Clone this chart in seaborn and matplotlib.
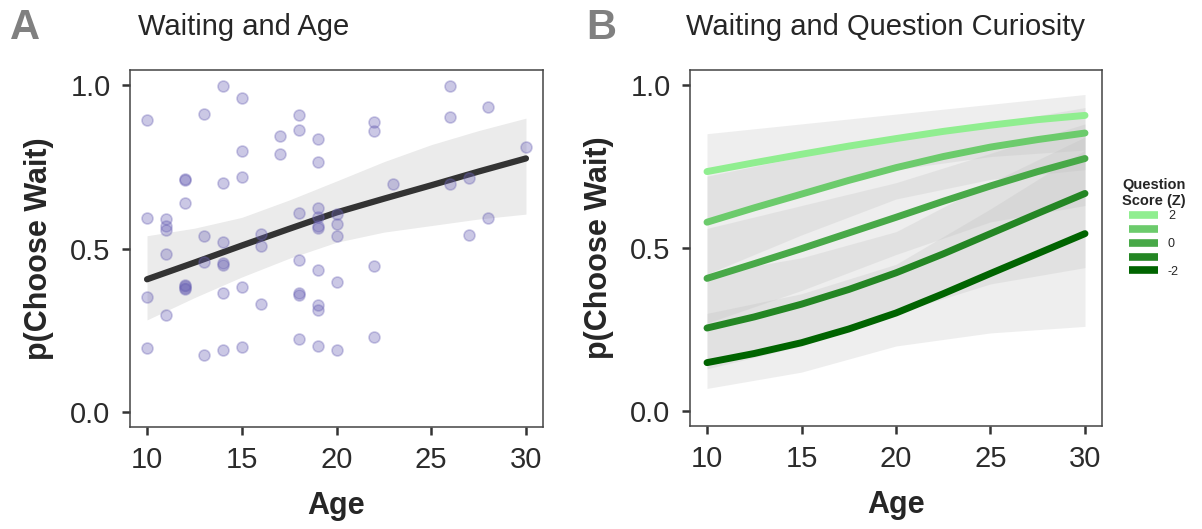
import matplotlib
matplotlib.use('Agg')
from matplotlib import pyplot as plt
from matplotlib.lines import Line2D
import pandas as pd
import seaborn as sns

# panel A: one point per participant (age, proportion of wait choices)
point_age = [10, 10, 10, 10,
             11, 11, 11, 11, 11,
             12, 12, 12, 12, 12, 12, 12,
             13, 13, 13, 13,
             14, 14, 14, 14, 14, 14, 14,
             15, 15, 15, 15, 15,
             16, 16, 16,
             17, 17,
             18, 18, 18, 18, 18, 18, 18,
             19, 19, 19, 19, 19, 19, 19, 19, 19, 19,
             20, 20, 20, 20, 20,
             22, 22, 22, 22,
             23,
             26, 26, 26,
             27, 27,
             28, 28,
             30]
point_p = [0.892, 0.593, 0.352, 0.197,
           0.590, 0.570, 0.555, 0.484, 0.297,
           0.709, 0.712, 0.640, 0.385, 0.380, 0.375, 0.390,
           0.910, 0.539, 0.460, 0.176,
           0.995, 0.701, 0.519, 0.456, 0.450, 0.363, 0.191,
           0.961, 0.797, 0.718, 0.383, 0.199,
           0.545, 0.509, 0.332,
           0.842, 0.790,
           0.908, 0.861, 0.608, 0.464, 0.363, 0.358, 0.223,
           0.834, 0.764, 0.625, 0.595, 0.568, 0.562, 0.433, 0.327, 0.312, 0.203,
           0.605, 0.575, 0.539, 0.398, 0.191,
           0.886, 0.858, 0.448, 0.229,
           0.696,
           0.995, 0.902, 0.696,
           0.714, 0.542,
           0.931, 0.593,
           0.810]

# panel A: fitted curve and its confidence band
fit_age = [10, 12.5, 15, 17.5, 20, 22.5, 25, 27.5, 30]
fit_p = [0.406, 0.457, 0.509, 0.560, 0.610, 0.652, 0.693, 0.735, 0.775]
fit_lo = [0.282, 0.350, 0.413, 0.470, 0.519, 0.550, 0.570, 0.590, 0.605]
fit_hi = [0.539, 0.562, 0.595, 0.648, 0.706, 0.765, 0.817, 0.860, 0.898]

# panel B: predicted curves by question curiosity score
scores = [2, 1, 0, -1, -2]
curve_age = [10, 12.5, 15, 17.5, 20, 22.5, 25, 27.5, 30]
curve_p = {
    2: [0.734, 0.761, 0.787, 0.812, 0.835, 0.857, 0.876, 0.893, 0.906],
    1: [0.579, 0.623, 0.665, 0.707, 0.746, 0.780, 0.809, 0.832, 0.852],
    0: [0.407, 0.452, 0.498, 0.546, 0.594, 0.643, 0.690, 0.734, 0.774],
    -1: [0.255, 0.289, 0.328, 0.373, 0.424, 0.482, 0.544, 0.606, 0.667],
    -2: [0.149, 0.177, 0.210, 0.252, 0.301, 0.360, 0.422, 0.483, 0.544],
}
band_age = [10, 15, 20, 25, 30]
band_lo = {
    2: [0.58, 0.67, 0.74, 0.78, 0.80],
    1: [0.42, 0.54, 0.65, 0.71, 0.74],
    0: [0.27, 0.37, 0.48, 0.58, 0.63],
    -1: [0.13, 0.20, 0.30, 0.39, 0.44],
    -2: [0.07, 0.12, 0.20, 0.24, 0.26],
}
band_hi = {
    2: [0.85, 0.88, 0.91, 0.94, 0.97],
    1: [0.72, 0.78, 0.83, 0.88, 0.93],
    0: [0.56, 0.63, 0.70, 0.79, 0.88],
    -1: [0.42, 0.47, 0.55, 0.70, 0.84],
    -2: [0.30, 0.36, 0.45, 0.62, 0.80],
}
score_colors = {2: '#90ee90', 1: '#6ccb6c', 0: '#48a948', -1: '#248624', -2: '#006400'}
legend_labels = ['2', '', '0', '', '-2']

sns.set_theme(style='ticks')
plt.rcParams['font.family'] = ['Liberation Sans', 'DejaVu Sans']

fig = plt.figure(figsize=(12.02, 5.29), dpi=100)
axA = fig.add_axes([130 / 1202, 1 - 427 / 529, 413 / 1202, 357 / 529])
axB = fig.add_axes([690 / 1202, 1 - 426 / 529, 412 / 1202, 356 / 529])

# panel A
axA.fill_between(fit_age, fit_lo, fit_hi, color='#ebebeb', lw=0, zorder=1)
sns.lineplot(x=fit_age, y=fit_p, color='#333333', lw=4.5, ax=axA, zorder=2)
sns.scatterplot(x=point_age, y=point_p, color='#6b63b5', alpha=0.35, s=62,
                edgecolor='#6b63b5', linewidth=1.2, ax=axA, zorder=3)

# panel B
for sc in scores[::-1]:
    axB.fill_between(band_age, band_lo[sc], band_hi[sc], color='#bdbdbd',
                     alpha=0.25, lw=0, zorder=1)
curves = pd.DataFrame([(sc, a, p) for sc in scores for a, p in zip(curve_age, curve_p[sc])],
                      columns=['score', 'age', 'p'])
sns.lineplot(data=curves, x='age', y='p', hue='score', palette=score_colors,
             lw=5, legend=False, ax=axB, zorder=2)

for ax in (axA, axB):
    ax.set_xlim(9.1, 30.9)
    ax.set_ylim(-0.045, 1.045)
    ax.set_xticks([10, 15, 20, 25, 30])
    ax.set_yticks([0, 0.5, 1.0])
    ax.set_yticklabels(['0.0', '0.5', '1.0'])
    for sp in ax.spines.values():
        sp.set_visible(True)
        sp.set_color('#444444')
        sp.set_linewidth(1.1)
    ax.tick_params(axis='both', length=6, width=1.8, color='#333333',
                   labelsize=21, labelcolor='#2b2b2b', pad=8)
    ax.set_xlabel('Age', fontsize=22, fontweight='bold', labelpad=12)
    ax.set_ylabel('p(Choose Wait)', fontsize=22, fontweight='bold', labelpad=12)
    ax.grid(False)

fig.text(138 / 1202, 1 - 27 / 529, 'Waiting and Age', fontsize=21, va='center', ha='left')
fig.text(686 / 1202, 1 - 27 / 529, 'Waiting and Question Curiosity', fontsize=21,
         va='center', ha='left')
fig.text(10 / 1202, 1 - 28 / 529, 'A', fontsize=30, fontweight='bold', color='#808080',
         va='center', ha='left')
fig.text(586 / 1202, 1 - 28 / 529, 'B', fontsize=30, fontweight='bold', color='#808080',
         va='center', ha='left')

handles = [Line2D([], [], color=score_colors[sc], lw=5.5, solid_capstyle='butt')
           for sc in scores]
fig.legend(handles, legend_labels, loc='upper left',
           bbox_to_anchor=(1116 / 1202, 1 - 172 / 529), frameon=False,
           title='Question\nScore (Z)',
           title_fontproperties={'weight': 'bold', 'size': 10.5},
           fontsize=9, handlelength=2.3, labelspacing=0.15,
           handletextpad=0.8, borderpad=0, alignment='center')

fig.savefig('out.png', dpi=100)
